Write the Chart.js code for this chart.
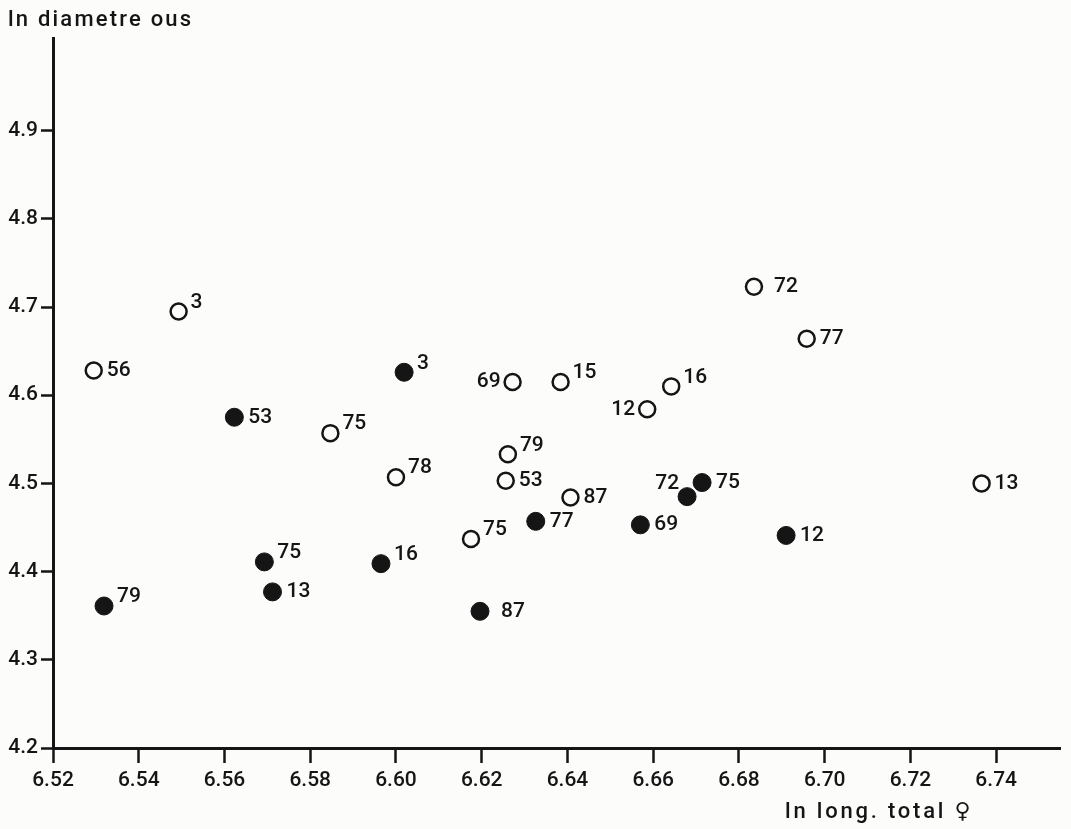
<!DOCTYPE html>
<html lang="fr">
<head>
<meta charset="UTF-8">
<title>ln diametre ous / ln long. total</title>
<script src="https://cdn.jsdelivr.net/npm/chart.js"></script>
<style>
  html, body { margin: 0; padding: 0; background: #fcfcfb; }
  canvas { display: block; }
</style>
</head>
<body>
<canvas id="myChart" width="1071" height="829"></canvas>
<script>
// open circles
var openX   = [6.5493, 6.5295, 6.5847, 6.6000, 6.6272, 6.6384, 6.6586, 6.6642, 6.6835, 6.6958, 6.6261, 6.6256, 6.6407, 6.6175, 6.7366];
var openY   = [4.695, 4.628, 4.557, 4.507, 4.615, 4.615, 4.584, 4.610, 4.723, 4.664, 4.533, 4.503, 4.484, 4.437, 4.500];
var openLbl = ['3', '56', '75', '78', '69', '15', '12', '16', '72', '77', '79', '53', '87', '75', '13'];
var openPos = ['ur', 'r', 'ur', 'ur', 'l', 'ur', 'l', 'ur', 'rr', 'r', 'ur', 'r', 'r', 'ur', 'r'];

// filled circles
var fullX   = [6.6019, 6.5623, 6.5693, 6.5712, 6.5965, 6.5319, 6.6196, 6.6326, 6.6570, 6.6679, 6.6714, 6.6910];
var fullY   = [4.626, 4.575, 4.411, 4.377, 4.409, 4.361, 4.355, 4.457, 4.453, 4.485, 4.501, 4.441];
var fullLbl = ['3', '53', '75', '13', '16', '79', '87', '77', '69', '72', '75', '12'];
var fullPos = ['ur', 'r', 'ur', 'r', 'ur', 'ur', 'rr', 'r', 'r', 'ul', 'r', 'r'];

var xTicks = [6.52, 6.54, 6.56, 6.58, 6.60, 6.62, 6.64, 6.66, 6.68, 6.70, 6.72, 6.74];
var yTicks = [4.2, 4.3, 4.4, 4.5, 4.6, 4.7, 4.8, 4.9];

var INK = '#151515';
var FONT = 'Roboto, "DejaVu Sans", sans-serif';

function toPoints(xs, ys) {
    return xs.map(function (x, i) { return { x: x, y: ys[i] }; });
}

var pointLabels = {
    id: 'pointLabels',
    afterDatasetsDraw: function (chart) {
        var ctx = chart.ctx;
        ctx.save();
        ctx.font = '500 21px ' + FONT;
        ctx.fillStyle = INK;
        ctx.textBaseline = 'middle';
        chart.data.datasets.forEach(function (ds, i) {
            var r = ds.pointRadius;
            chart.getDatasetMeta(i).data.forEach(function (el, j) {
                var pos = ds.labelPos[j];
                var x = el.x, y = el.y;
                ctx.textAlign = 'left';
                if (pos == 'r')  { x += r + 5; }
                if (pos == 'rr') { x += r + 12; }
                if (pos == 'ur') { x += r + 4; y -= 9; }
                if (pos == 'l')  { x -= r + 4; ctx.textAlign = 'right'; }
                if (pos == 'ul') { x -= r - 1; y -= 13; ctx.textAlign = 'right'; }
                ctx.fillText(ds.pointText[j], x, y);
            });
        });
        ctx.restore();
    }
};

var axisTitles = {
    id: 'axisTitles',
    afterDraw: function (chart) {
        var ctx = chart.ctx;
        ctx.save();
        ctx.font = '500 22px ' + FONT;
        ctx.fillStyle = INK;
        ctx.textBaseline = 'alphabetic';
        ctx.textAlign = 'left';
        ctx.letterSpacing = '2.2px';
        ctx.fillText('ln diametre ous', 8, 26);
        ctx.letterSpacing = '2.8px';
        ctx.fillText('ln long. total \u2640', 785, 818);
        ctx.restore();
    }
};

function keepTicks(list) {
    return function (scale) {
        scale.ticks = list.map(function (v) { return { value: v }; });
    };
}

new Chart(document.getElementById('myChart'), {
    type: 'scatter',
    data: {
        datasets: [{
            label: 'open',
            data: toPoints(openX, openY),
            pointText: openLbl,
            labelPos: openPos,
            pointRadius: 8,
            pointHoverRadius: 8,
            borderWidth: 2.5,
            borderColor: INK,
            backgroundColor: 'rgba(0,0,0,0)'
        }, {
            label: 'filled',
            data: toPoints(fullX, fullY),
            pointText: fullLbl,
            labelPos: fullPos,
            pointRadius: 9,
            pointHoverRadius: 9,
            borderWidth: 1,
            borderColor: INK,
            backgroundColor: INK
        }]
    },
    options: {
        responsive: false,
        animation: false,
        layout: { padding: { top: 38, right: 6, left: 0, bottom: 0 } },
        plugins: { legend: { display: false }, tooltip: { enabled: false } },
        scales: {
            x: {
                type: 'linear',
                min: 6.52,
                max: 6.755,
                afterBuildTicks: keepTicks(xTicks),
                afterFit: function (s) { s.height = 81; },
                border: { color: INK, width: 3 },
                grid: { drawOnChartArea: false, drawTicks: true, tickLength: 15, tickColor: INK, tickWidth: 2.5 },
                ticks: {
                    color: INK,
                    padding: 5,
                    maxRotation: 0,
                    autoSkip: false,
                    font: { family: FONT, size: 21, weight: '500' },
                    callback: function (v) { return v.toFixed(2); }
                }
            },
            y: {
                type: 'linear',
                min: 4.2,
                max: 5.005,
                afterBuildTicks: keepTicks(yTicks),
                afterFit: function (s) { s.width = 53; },
                border: { color: INK, width: 3 },
                grid: { drawOnChartArea: false, drawTicks: true, tickLength: 12, tickColor: INK, tickWidth: 2.5 },
                ticks: {
                    color: INK,
                    padding: 3,
                    autoSkip: false,
                    font: { family: FONT, size: 21, weight: '500' },
                    callback: function (v) { return v.toFixed(1); }
                }
            }
        }
    },
    plugins: [pointLabels, axisTitles]
});
</script>
</body>
</html>
